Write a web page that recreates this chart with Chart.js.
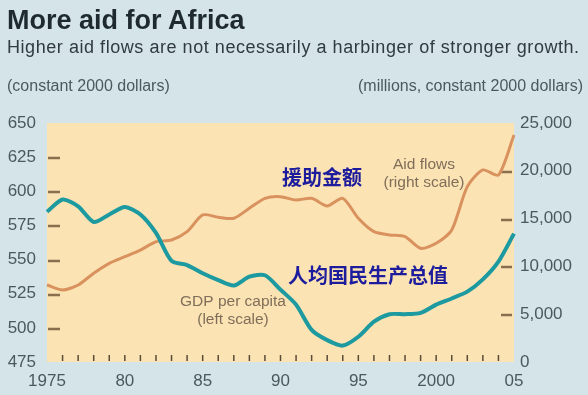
<!DOCTYPE html>
<html>
<head>
<meta charset="utf-8">
<script src="https://cdn.jsdelivr.net/npm/chart.js@4.4.1/dist/chart.umd.min.js"></script>
<style>
  body { margin: 0; background: #d4e4e8; }
  #wrap { position: relative; width: 588px; height: 395px; font-family: "Liberation Sans", Arial, sans-serif; }
  #wrap canvas { position: absolute; left: 0; top: 0; }
  .txt { position: absolute; white-space: nowrap; }
  #title { left: 7px; top: 5px; font-size: 27px; font-weight: bold; color: #1e2a2e; }
  #sub { left: 7px; top: 37px; font-size: 18px; letter-spacing: 0.55px; color: #2f3b40; }
  #unitL { left: 7px; top: 77px; font-size: 16px; color: #4a5960; }
  #unitR { right: 5px; top: 77px; font-size: 16px; color: #4a5960; }
</style>
</head>
<body>
<div id="wrap">
  <canvas id="chartAid" width="588" height="395"></canvas>
  <div class="txt" id="title">More aid for Africa</div>
  <div class="txt" id="sub">Higher aid flows are not necessarily a harbinger of stronger growth.</div>
  <div class="txt" id="unitL">(constant 2000 dollars)</div>
  <div class="txt" id="unitR">(millions, constant 2000 dollars)</div>
</div>
<script>
// data
const years = [1975, 1976, 1977, 1978, 1979, 1980, 1981, 1982, 1983, 1984, 1985, 1986, 1987, 1988, 1989, 1990,
               1991, 1992, 1993, 1994, 1995, 1996, 1997, 1998, 1999, 2000, 2001, 2002, 2003, 2004, 2005];
const xTickLabels = ['1975', '', '', '', '', '80', '', '', '', '', '85', '', '', '', '', '90',
                     '', '', '', '', '95', '', '', '', '', '2000', '', '', '', '', '05'];
const gdpPerCapita = [585, 594, 589, 577.5, 583, 588.5, 583, 569.5, 549, 546, 540, 535, 531, 537.5, 538.5, 528,
                      517, 498.5, 491, 487, 493.5, 504.5, 510, 510, 511, 517, 521.5, 526.5, 535.5, 548.5, 569];
const aidFlows = [8050, 7530, 8050, 9280, 10320, 11010, 11710, 12580, 12760, 13630, 15380, 15140, 15030, 16080, 17120, 17290,
                  16950, 17120, 16320, 17120, 15030, 13630, 13290, 13110, 11890, 12420, 13810, 18340, 20090, 19560, 23750];
const leftTicks = [475, 500, 525, 550, 575, 600, 625, 650];
const rightTicks = [0, 5000, 10000, 15000, 20000, 25000];

const tickColor = '#4a5960';
const markColor = '#8a6f4e';
const tickFont = { size: 17, family: '"Liberation Sans", Arial' };

// plot background + small tick marks inside the plot
const plotDecor = {
    id: 'plotDecor',
    beforeDraw(chart) {
        const { ctx, chartArea: a } = chart;
        ctx.save();
        ctx.fillStyle = '#d4e4e8';
        ctx.fillRect(0, 0, chart.width, chart.height);
        ctx.fillStyle = '#fce3b4';
        ctx.fillRect(a.left, a.top, a.right - a.left, a.bottom - a.top);
        ctx.restore();
    },
    beforeDatasetsDraw(chart) {
        const { ctx, chartArea: a, scales } = chart;
        ctx.save();
        ctx.strokeStyle = markColor;
        ctx.lineWidth = 2.5;
        leftTicks.slice(1, -1).forEach(v => {
            const y = Math.round(scales.y.getPixelForValue(v)) + 1;
            ctx.beginPath(); ctx.moveTo(a.left + 1, y); ctx.lineTo(a.left + 13, y); ctx.stroke();
        });
        rightTicks.slice(1, -1).forEach(v => {
            const y = Math.round(scales.y2.getPixelForValue(v)) + 1;
            ctx.beginPath(); ctx.moveTo(a.right - 13, y); ctx.lineTo(a.right - 2, y); ctx.stroke();
        });
        ctx.strokeStyle = '#5a4a38';
        ctx.lineWidth = 1.5;
        years.forEach((yr, i) => {
            if (i === 0 || i === years.length - 1) return;
            const x = scales.x.getPixelForValue(i);
            ctx.beginPath(); ctx.moveTo(x, a.bottom - 7); ctx.lineTo(x, a.bottom - 1); ctx.stroke();
        });
        ctx.restore();
    },
    afterDatasetsDraw(chart) {
        const { ctx } = chart;
        ctx.save();
        ctx.textAlign = 'center';
        ctx.textBaseline = 'middle';
        ctx.fillStyle = '#7f6e5a';
        ctx.font = '15.5px "Liberation Sans", Arial, sans-serif';
        ctx.fillText('Aid flows', 424, 165);
        ctx.fillText('(right scale)', 424, 183);
        ctx.fillText('GDP per capita', 233, 302);
        ctx.fillText('(left scale)', 233, 320);
        ctx.fillStyle = '#1c1c9c';
        ctx.font = 'bold 20px "Noto Sans CJK SC", sans-serif';
        ctx.textAlign = 'left';
        ctx.fillText('援助金额', 282, 177);
        ctx.fillText('人均国民生产总值', 288, 275);
        ctx.restore();
    }
};

new Chart(document.getElementById('chartAid'), {
    type: 'line',
    data: {
        labels: years,
        datasets: [{
            label: 'GDP per capita',
            data: gdpPerCapita,
            yAxisID: 'y',
            borderColor: '#1c9aa0',
            borderWidth: 4,
            pointRadius: 0,
            tension: 0.25,
        }, {
            label: 'Aid flows',
            data: aidFlows,
            yAxisID: 'y2',
            borderColor: '#d9925e',
            borderWidth: 3,
            pointRadius: 0,
            tension: 0.25,
        }],
    },
    options: {
        responsive: false,
        animation: false,
        layout: { padding: { top: 123, left: 0, right: 0, bottom: 0 } },
        plugins: {
            legend: { display: false },
            tooltip: { enabled: false },
        },
        scales: {
            x: {
                offset: false,
                grid: { display: false, drawTicks: false },
                border: { display: false },
                ticks: {
                    autoSkip: false, maxRotation: 0, padding: 9,
                    color: tickColor, font: tickFont,
                    callback: (v, i) => xTickLabels[i],
                },
                afterFit: s => { s.height = 33; },
            },
            y: {
                position: 'left',
                min: 475, max: 650,
                grid: { display: false, drawTicks: false },
                border: { display: false },
                ticks: { stepSize: 25, padding: 11, color: tickColor, font: tickFont },
                afterFit: s => { s.width = 47; },
            },
            y2: {
                position: 'right',
                min: 0, max: 25000,
                grid: { display: false, drawTicks: false },
                border: { display: false },
                ticks: {
                    stepSize: 5000, padding: 6,
                    color: tickColor, font: tickFont,
                    callback: v => v.toLocaleString('en-US'),
                },
                afterFit: s => { s.width = 74; },
            },
        },
    },
    plugins: [plotDecor],
});
</script>
</body>
</html>
